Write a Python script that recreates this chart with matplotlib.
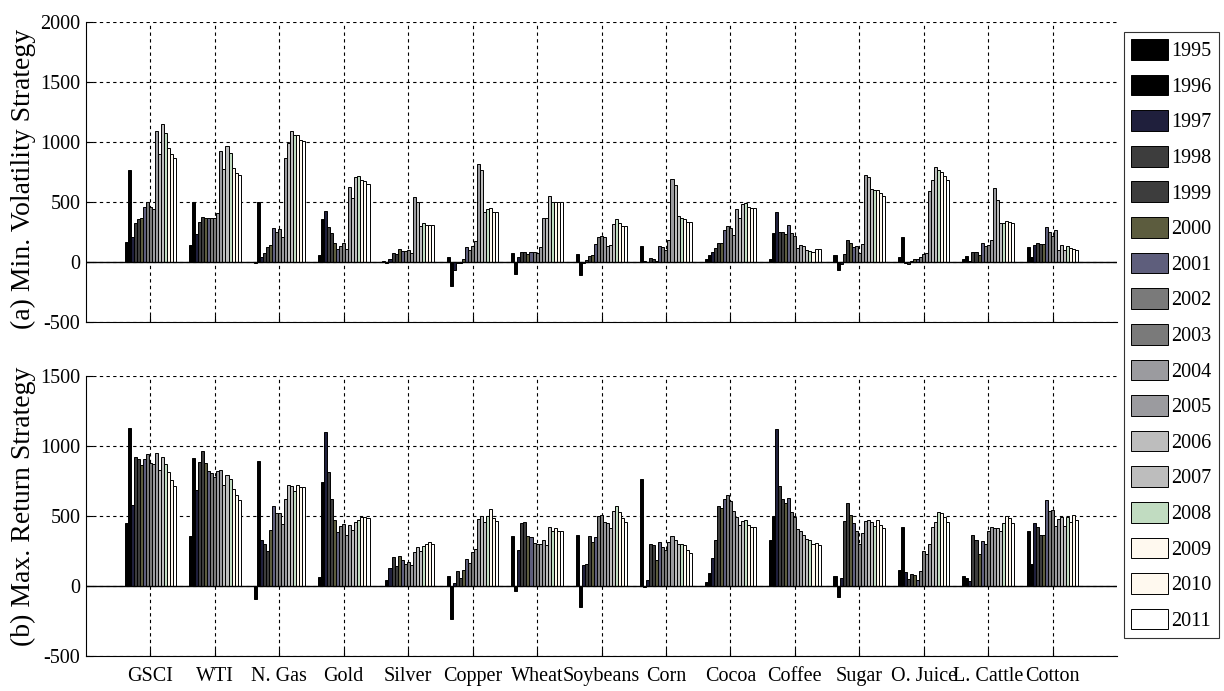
import matplotlib
matplotlib.use("Agg")
import matplotlib.pyplot as plt
import numpy as np
from matplotlib.patches import Patch

plt.rcParams['font.family'] = ['Liberation Serif', 'DejaVu Serif']

commodities = ["GSCI", "WTI", "N. Gas", "Gold", "Silver", "Copper", "Wheat", "Soybeans",
               "Corn", "Cocoa", "Coffee", "Sugar", "O. Juice", "L. Cattle", "Cotton"]
years = [str(y) for y in range(1995, 2012)]
year_colors = ["#000000", "#000000", "#1f1f3c", "#3d3d3d", "#3d3d3d", "#5c5c3e", "#5e5e7c",
               "#7a7a7a", "#7a7a7a", "#9b9b9f", "#9b9b9f", "#bdbdbd", "#bdbdbd", "#c1dcc1",
               "#fff9ef", "#fff9ef", "#ffffff"]

# (a) Min. Volatility Strategy: rows = commodities, cols = years 1995..2011
min_vol = {
    "GSCI":     [164, 767, 205, 322, 356, 364, 461, 497, 456, 439, 1094, 897, 1150, 1078, 947, 897, 864],
    "WTI":      [144, 500, 236, 333, 378, 364, 364, 364, 364, 406, 928, 772, 969, 906, 781, 739, 725],
    "N. Gas":   [-11, 500, 44, 78, 122, 142, 281, 247, 272, 206, 864, 994, 1094, 1058, 1058, 1017, 1011],
    "Gold":     [58, 356, 428, 294, 239, 161, 106, 133, 156, 108, 628, 531, 706, 714, 683, 675, 650],
    "Silver":   [8, -11, 22, 78, 67, 108, 94, 94, 100, 78, 544, 500, 300, 322, 308, 308, 308],
    "Copper":   [39, -200, -67, -6, -6, 22, 122, 100, 133, 172, 814, 767, 417, 439, 447, 417, 417],
    "Wheat":    [78, -97, 44, 81, 86, 67, 86, 86, 78, 128, 364, 364, 553, 500, 500, 500, 500],
    "Soybeans": [67, -108, -6, 17, 50, 56, 150, 206, 219, 206, 133, 142, 314, 356, 322, 300, 300],
    "Corn":     [133, 8, 3, 36, 25, 5, 133, 122, 100, 183, 694, 642, 386, 364, 358, 331, 331],
    "Cocoa":    [22, 58, 86, 114, 161, 161, 267, 300, 281, 225, 439, 364, 481, 494, 461, 447, 447],
    "Coffee":   [25, 239, 417, 247, 247, 231, 308, 244, 217, 119, 142, 133, 100, 94, 86, 106, 106],
    "Sugar":    [58, -67, -17, 67, 183, 161, 122, 133, 78, 150, 725, 706, 606, 600, 600, 578, 553],
    "O. Juice": [39, 206, -6, -17, 11, 22, 22, 39, 67, 78, 594, 683, 789, 767, 753, 717, 683],
    "L. Cattle":[25, 50, 8, 86, 86, 58, 156, 133, 142, 183, 614, 517, 322, 322, 344, 336, 322],
    "Cotton":   [122, 39, 142, 161, 150, 150, 294, 253, 217, 267, 100, 142, 100, 133, 114, 108, 100],
}

# (b) Max. Return Strategy
max_ret = {
    "GSCI":     [453, 1129, 578, 922, 906, 866, 906, 941, 877, 870, 948, 830, 922, 870, 814, 760, 712],
    "WTI":      [354, 913, 689, 889, 965, 877, 823, 806, 776, 823, 830, 724, 795, 767, 696, 653, 616],
    "N. Gas":   [-92, 896, 328, 300, 253, 401, 571, 524, 524, 446, 625, 724, 712, 677, 724, 707, 705],
    "Gold":     [64, 743, 1097, 814, 623, 472, 389, 427, 441, 366, 436, 399, 460, 469, 493, 493, 483],
    "Silver":   [0, 40, 130, 205, 141, 212, 186, 158, 172, 148, 240, 278, 252, 285, 297, 314, 300],
    "Copper":   [71, -233, 21, 106, 57, 113, 193, 167, 243, 264, 476, 500, 455, 500, 547, 486, 467],
    "Wheat":    [356, -33, 255, 448, 455, 356, 349, 309, 297, 302, 330, 295, 420, 391, 413, 391, 391],
    "Soybeans": [366, -151, 153, 160, 356, 314, 349, 500, 509, 455, 448, 413, 538, 573, 526, 486, 455],
    "Corn":     [762, -5, 42, 302, 295, 184, 314, 278, 259, 314, 356, 330, 297, 297, 290, 255, 238],
    "Cocoa":    [31, 94, 203, 330, 573, 554, 618, 651, 604, 538, 491, 439, 467, 472, 436, 420, 420],
    "Coffee":   [330, 500, 1122, 714, 618, 590, 627, 526, 495, 406, 391, 366, 337, 330, 302, 309, 290],
    "Sugar":    [71, -75, 59, 467, 592, 509, 448, 391, 302, 382, 467, 474, 455, 427, 474, 436, 413],
    "O. Juice": [113, 420, 101, 50, 85, 78, 40, 106, 248, 231, 302, 420, 455, 528, 521, 495, 455],
    "L. Cattle":[71, 59, 35, 366, 330, 231, 321, 302, 391, 420, 413, 413, 391, 448, 500, 486, 448],
    "Cotton":   [391, 156, 448, 420, 366, 366, 613, 538, 543, 432, 479, 495, 432, 495, 455, 509, 474],
}

W, H = 1224, 691
fig = plt.figure(figsize=(W / 100, H / 100), dpi=100)

def fx(px):
    return px / W

def fy(py):
    return 1 - py / H

ax_a = fig.add_axes([fx(86), fy(322), fx(1117) - fx(86), fy(22) - fy(322)])
ax_b = fig.add_axes([fx(86), fy(656), fx(1117) - fx(86), fy(376) - fy(656)])

n_years = len(years)
group_w = 0.8
bar_w = group_w / n_years
xpos = np.arange(1, len(commodities) + 1)

FS = 14.5
LFS = 20

def draw(ax, data, ylim, yticks, ylabel):
    vals = np.array([data[c] for c in commodities])
    for j in range(n_years):
        offs = -group_w / 2 + (j + 0.5) * bar_w
        ax.bar(xpos + offs, vals[:, j], width=bar_w, color=year_colors[j],
               edgecolor="black", linewidth=0.7, zorder=3)
    ax.axhline(0, color="black", linewidth=1.0, zorder=4)
    ax.set_xlim(0, len(commodities) + 1)
    ax.set_ylim(*ylim)
    ax.set_yticks(yticks)
    ax.set_yticklabels([str(t) for t in yticks], fontsize=FS)
    ax.set_xticks(xpos)
    ax.grid(True, linestyle=(0, (3, 3)), color="black", linewidth=0.8, zorder=0)
    ax.set_axisbelow(True)
    for s in ("top", "right"):
        ax.spines[s].set_visible(False)
    ax.spines["left"].set_linewidth(0.8)
    ax.spines["bottom"].set_linewidth(0.8)
    ax.tick_params(direction="in", length=5, width=0.8, pad=4)
    ax.set_ylabel(ylabel, fontsize=LFS)

draw(ax_a, min_vol, (-500, 2000), [-500, 0, 500, 1000, 1500, 2000], "(a) Min. Volatility Strategy")
ax_a.set_xticklabels([])
draw(ax_b, max_ret, (-500, 1500), [-500, 0, 500, 1000, 1500], "(b) Max. Return Strategy")
ax_b.set_xticklabels(commodities, fontsize=FS)
ax_b.tick_params(axis="x", pad=8)
lab_x = (36 - 86) / (1117 - 86)
ax_a.yaxis.set_label_coords(lab_x, 0.478)
ax_b.yaxis.set_label_coords(lab_x, 0.535)

handles = [Patch(facecolor=c, edgecolor="black", linewidth=0.7) for c in year_colors]
leg = fig.legend(handles, years, loc="upper left", bbox_to_anchor=(fx(1124), fy(32)),
                 bbox_transform=fig.transFigure, fontsize=FS, frameon=True, fancybox=False,
                 borderaxespad=0, borderpad=0.35, handlelength=1.85, handleheight=1.2,
                 handletextpad=0.15, labelspacing=0.67)
leg.get_frame().set_edgecolor("black")
leg.get_frame().set_linewidth(0.8)

fig.savefig("out.png", dpi=100)
